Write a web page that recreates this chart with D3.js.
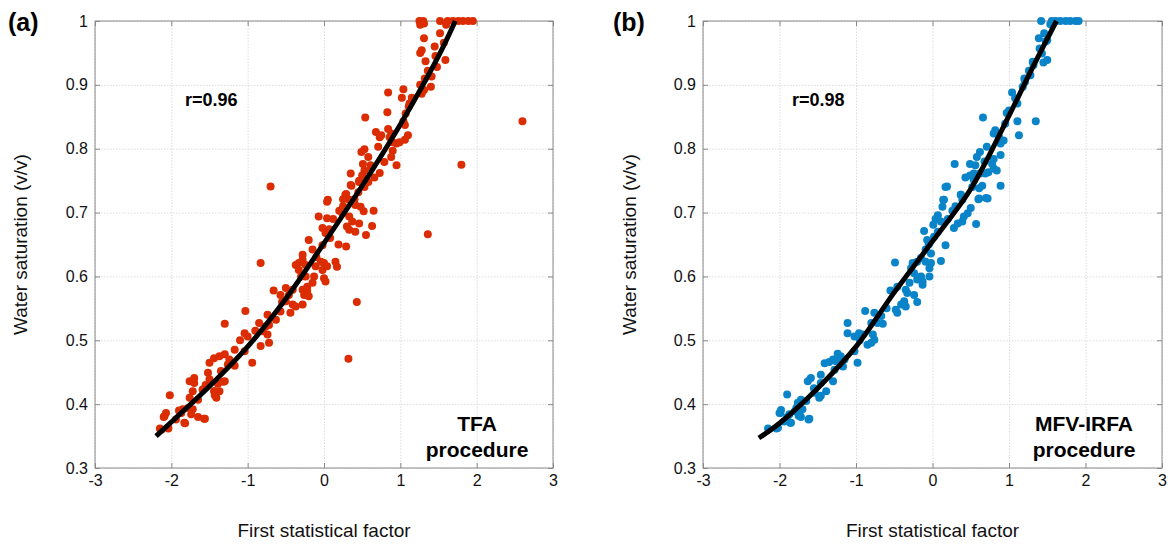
<!DOCTYPE html>
<html><head><meta charset="utf-8">
<script src="https://cdn.jsdelivr.net/npm/d3@7"></script>
<style>
body{margin:0;background:#fff;}
svg{display:block;font-family:"Liberation Sans",Arial,sans-serif;}
</style></head><body>
<svg id="c" width="1173" height="546"></svg>
<script>
const xTicks = [-3,-2,-1,0,1,2,3];
const yTicks = [0.3,0.4,0.5,0.6,0.7,0.8,0.9,1];
const xDomain = [-3,3];
const yDomain = [0.3,1];

const tfaPoints = [
[-0.70,0.741],[0.35,0.743],[0.46,0.748],[0.54,0.746],[0.28,0.728],[0.33,0.72],[0.04,0.717],[0.41,0.712],[0.48,0.709],[0.65,0.703],[0.52,0.702],[0.20,0.703],[0.24,0.699],[-0.07,0.694],[0.04,0.691],[0.33,0.694],[0.37,0.686],[0.46,0.683],[0.63,0.679],[-0.02,0.676],[0.07,0.674],[0.30,0.678],[0.33,0.673],[0.41,0.670],[0.55,0.665],[0.02,0.668],[-0.20,0.657],[-0.02,0.649],[0.19,0.650],[0.29,0.647],[-0.15,0.642],[-0.28,0.634],[-0.28,0.626],[-0.33,0.621],[-0.37,0.618],[-0.24,0.618],[-0.83,0.621],[-0.04,0.623],[0.0,0.621],[-0.11,0.616],[-0.02,0.610],[0.04,0.616],[0.15,0.623],[0.17,0.615],[-0.33,0.610],[-0.24,0.600],[-0.13,0.600],[0.0,0.597],[0.02,0.592],[-0.15,0.590],[-0.22,0.584],[-0.50,0.582],[-0.41,0.579],[-0.46,0.571],[-0.28,0.579],[-0.26,0.571],[-0.20,0.569],[-0.22,0.577],[-0.66,0.578],[-0.57,0.571],[-0.50,0.561],[-0.41,0.556],[-0.37,0.553],[-0.28,0.556],[-0.44,0.543],[-0.57,0.545],[-0.74,0.540],[-1.03,0.546],[-0.63,0.532],[-0.72,0.524],[-0.76,0.522],[-0.85,0.527],[-0.80,0.514],[-1.30,0.526],[-1.04,0.511],[-1.00,0.506],[-0.74,0.509],[-0.72,0.496],[-0.83,0.491],[-1.04,0.483],[-0.94,0.465],[-1.17,0.485],[-1.30,0.478],[-1.37,0.475],[-1.44,0.472],[-1.50,0.465],[-1.24,0.470],[-1.26,0.462],[-1.17,0.460],[-1.35,0.452],[-1.52,0.449],[-1.50,0.439],[-1.30,0.436],[-1.39,0.432],[-1.76,0.436],[-1.70,0.441],[-1.70,0.433],[-1.59,0.423],[-1.44,0.420],[-1.37,0.420],[-1.41,0.410],[-1.72,0.420],[-1.76,0.410],[-1.65,0.407],[-2.02,0.414],[-1.78,0.394],[-1.72,0.392],[-1.85,0.392],[-1.74,0.384],[-1.65,0.380],[-1.57,0.377],[-2.07,0.386],[-2.09,0.381],[-1.94,0.376],[-1.83,0.371],[-2.04,0.363],[-2.13,0.360],[-1.87,0.386],
[0.32,0.471],[0.43,0.560],[1.36,0.666],
[-2.15,0.362],[-2.04,0.362],[-2.10,0.380],[-1.82,0.370],[-1.56,0.377],[-1.32,0.435],[-1.43,0.420],[-1.43,0.414],
[1.25,1.0],[1.30,1.0],[1.26,0.994],[1.31,0.996],[1.52,1.0],[1.62,1.0],[1.60,0.994],[1.69,1.0],[1.76,1.0],[1.82,1.0],[1.89,1.0],[1.95,1.0],[1.52,0.981],[1.31,0.973],[1.57,0.966],[1.28,0.954],[1.26,0.950],[1.46,0.945],[1.33,0.937],[1.59,0.939],[1.48,0.928],[1.36,0.922],[1.41,0.913],[1.32,0.910],[1.26,0.900],[1.40,0.897],[1.31,0.892],[1.28,0.886],[1.04,0.893],[0.84,0.888],[1.02,0.880],[1.12,0.871],[1.11,0.866],[0.83,0.857],[0.54,0.849],[1.07,0.855],[1.04,0.843],[1.06,0.837],[0.84,0.831],[0.68,0.826],[0.73,0.818],[0.75,0.821],[0.88,0.824],[0.86,0.818],[1.10,0.821],[1.06,0.814],[0.95,0.808],[0.99,0.810],[0.71,0.803],[0.90,0.797],[0.49,0.795],[0.53,0.799],[0.58,0.787],[0.51,0.776],[0.61,0.774],[0.95,0.774],[0.88,0.787],[0.79,0.779],[1.80,0.775],[2.60,0.843],[0.73,0.762],[0.35,0.761],[0.53,0.766],[0.50,0.758],[0.46,0.750],[0.66,0.755],[0.36,0.742],[0.58,0.748],[0.53,0.740],[0.45,0.732],[0.29,0.729],[0.05,0.720],[0.25,0.721],[0.40,0.721],
[-0.10,0.630],[0.08,0.660],[0.12,0.690],[-0.30,0.600],[-0.55,0.560],[-0.90,0.515],[-1.10,0.500],[-1.55,0.430],[-1.90,0.390],[0.25,0.710],[0.62,0.770],[0.90,0.810],[1.15,0.880],[1.45,0.960]
];

const mfvPoints = [
[0.19,0.741],[0.54,0.751],[0.61,0.738],[0.72,0.722],[0.61,0.722],[0.37,0.728],[0.39,0.720],[0.15,0.720],[0.13,0.709],[0.26,0.703],[0.50,0.707],[0.46,0.699],[0.41,0.694],[0.07,0.696],[0.04,0.690],[0.11,0.686],[0.01,0.681],[0.39,0.686],[0.33,0.683],[0.28,0.676],[0.57,0.682],[-0.11,0.671],[0.07,0.670],[0.02,0.662],[-0.07,0.657],[0.17,0.649],[-0.09,0.642],[-0.02,0.636],[-0.49,0.622],[-0.26,0.621],[-0.20,0.623],[-0.15,0.629],[-0.09,0.623],[-0.02,0.621],[0.11,0.624],[-0.04,0.613],[-0.28,0.613],[-0.24,0.605],[-0.15,0.600],[-0.04,0.600],[-0.13,0.592],[-0.20,0.595],[-0.13,0.587],[-0.46,0.584],[-0.55,0.578],[-0.35,0.579],[-0.33,0.574],[-0.24,0.571],[-0.20,0.560],[-0.37,0.561],[-0.41,0.556],[-0.35,0.553],[-0.48,0.548],[-0.88,0.546],[-0.76,0.543],[-0.46,0.543],[-0.67,0.538],[-1.11,0.527],[-0.80,0.527],[-0.72,0.527],[-0.65,0.526],[-1.11,0.511],[-1.02,0.506],[-0.96,0.511],[-0.91,0.509],[-0.78,0.509],[-0.76,0.501],[-0.85,0.493],[-0.80,0.496],[-1.02,0.483],[-1.24,0.479],[-1.22,0.472],[-1.30,0.470],[-1.35,0.466],[-1.41,0.464],[-1.26,0.467],[-1.15,0.470],[-0.98,0.465],[-1.17,0.459],[-1.28,0.454],[-1.46,0.446],[-1.59,0.441],[-1.63,0.436],[-1.30,0.436],[-1.46,0.433],[-1.39,0.420],[-1.46,0.413],[-1.48,0.410],[-1.54,0.418],[-1.90,0.415],[-1.72,0.407],[-1.76,0.402],[-1.65,0.405],[-1.78,0.394],[-1.70,0.392],[-1.74,0.386],[-1.72,0.380],[-1.61,0.377],[-2.00,0.386],[-1.98,0.391],[-1.87,0.384],[-1.85,0.371],[-2.02,0.363],[-1.94,0.373],[-1.80,0.389],
[-2.15,0.362],[-2.04,0.362],[-1.99,0.386],[-1.86,0.371],[-1.62,0.376],[-1.75,0.382],
[1.42,1.0],[1.56,1.0],[1.61,1.0],[1.67,1.0],[1.74,1.0],[1.80,1.0],[1.87,1.0],[1.91,1.0],[1.54,0.995],[1.46,0.981],[1.39,0.973],[1.48,0.968],[1.40,0.957],[1.43,0.949],[1.50,0.939],[1.45,0.935],[1.31,0.936],[1.32,0.931],[1.26,0.922],[1.28,0.915],[1.21,0.905],[1.18,0.897],[1.04,0.888],[1.08,0.879],[1.11,0.871],[0.97,0.856],[1.11,0.843],[1.35,0.843],[0.66,0.849],[0.95,0.839],[0.82,0.829],[0.80,0.824],[1.13,0.821],[0.87,0.818],[0.93,0.813],[0.89,0.808],[0.71,0.803],[0.62,0.795],[0.58,0.787],[0.89,0.790],[0.80,0.784],[0.29,0.776],[0.49,0.776],[0.56,0.774],[0.78,0.776],[0.80,0.769],[0.84,0.766],[0.73,0.763],[0.69,0.761],[0.62,0.761],[0.43,0.755],[0.49,0.758],[0.54,0.761],[0.89,0.742],[0.65,0.742],[0.52,0.740],[0.17,0.740],[0.60,0.721],[0.70,0.723],[0.37,0.728],[0.14,0.720],
[-0.05,0.650],[0.20,0.690],[-0.30,0.590],[-0.60,0.550],[-0.95,0.500],[-1.20,0.475],[-1.55,0.425],[-1.90,0.380],[0.30,0.710],[0.68,0.780],[1.00,0.860],[1.20,0.910],[1.50,0.970]
];

const tfaFit = [[-2.2,0.35],[-2.0,0.372],[-1.5,0.428],[-1.0,0.49],[-0.5,0.565],[0,0.652],[0.5,0.742],[1.0,0.838],[1.5,0.945],[1.72,1.0]];
const mfvFit = [[-2.27,0.347],[-2.0,0.37],[-1.5,0.425],[-1.0,0.49],[-0.5,0.575],[0,0.655],[0.5,0.737],[1.0,0.852],[1.3,0.925],[1.62,1.0]];

const panels = [
  {left:95, right:553, top:21, bottom:468, letter:"(a)", letterX:8, rText:"r=0.96", rX:185,
   method:["TFA","procedure"], methodX:477, color:"#db2c02", pts:tfaPoints, fit:tfaFit, ylabX:27},
  {left:703, right:1162, top:21, bottom:468, letter:"(b)", letterX:613, rText:"r=0.98", rX:792,
   method:["MFV-IRFA","procedure"], methodX:1084, color:"#0a84c8", pts:mfvPoints, fit:mfvFit, ylabX:636}
];

const svg = d3.select("#c");
const frameCol = "#8a8a8a";

panels.forEach(p => {
  const x = d3.scaleLinear().domain(xDomain).range([p.left, p.right]);
  const y = d3.scaleLinear().domain(yDomain).range([p.bottom, p.top]);
  const g = svg.append("g");

  g.append("g").attr("transform",`translate(0,${p.bottom})`)
    .call(d3.axisBottom(x).tickValues(xTicks).tickSize(-(p.bottom-p.top)).tickFormat(""))
    .call(s=>{s.select(".domain").remove(); s.selectAll("line").attr("stroke","#dcdcdc").attr("stroke-dasharray","1.5,1.5");});
  g.append("g").attr("transform",`translate(${p.left},0)`)
    .call(d3.axisLeft(y).tickValues(yTicks).tickSize(-(p.right-p.left)).tickFormat(""))
    .call(s=>{s.select(".domain").remove(); s.selectAll("line").attr("stroke","#dcdcdc").attr("stroke-dasharray","1.5,1.5");});

  g.append("rect").attr("x",p.left).attr("y",p.top).attr("width",p.right-p.left).attr("height",p.bottom-p.top)
    .attr("fill","none").attr("stroke",frameCol).attr("stroke-width",1);

  const styleAxis = s => {
    s.select(".domain").remove();
    s.selectAll("line").attr("stroke",frameCol);
    s.selectAll("text").attr("fill","#111").attr("font-size","16px");
  };
  g.append("g").attr("transform",`translate(0,${p.bottom})`)
    .call(d3.axisBottom(x).tickValues(xTicks).tickSizeInner(-5).tickSizeOuter(0).tickPadding(7).tickFormat(d=>String(d)))
    .call(styleAxis);
  g.append("g").attr("transform",`translate(0,${p.top})`)
    .call(d3.axisTop(x).tickValues(xTicks).tickSizeInner(-5).tickSizeOuter(0).tickFormat(""))
    .call(styleAxis);
  g.append("g").attr("transform",`translate(${p.left},0)`)
    .call(d3.axisLeft(y).tickValues(yTicks).tickSizeInner(-5).tickSizeOuter(0).tickPadding(7).tickFormat(d=>String(d)))
    .call(styleAxis);
  g.append("g").attr("transform",`translate(${p.right},0)`)
    .call(d3.axisRight(y).tickValues(yTicks).tickSizeInner(-5).tickSizeOuter(0).tickFormat(""))
    .call(styleAxis);

  g.append("g").selectAll("circle").data(p.pts).join("circle")
    .attr("cx",d=>x(d[0])).attr("cy",d=>y(d[1])).attr("r",4).attr("fill",p.color);

  g.append("path").datum(p.fit)
    .attr("d", d3.line().x(d=>x(d[0])).y(d=>y(d[1])).curve(d3.curveCatmullRom))
    .attr("fill","none").attr("stroke","#000").attr("stroke-width",5);

  g.append("text").attr("x",p.letterX).attr("y",31).attr("font-size","25px").attr("font-weight","bold").text(p.letter);
  g.append("text").attr("x",p.rX).attr("y",106).attr("font-size","18px").attr("font-weight","bold").text(p.rText);
  g.append("text").attr("x",p.methodX).attr("y",431).attr("text-anchor","middle").attr("font-size","21px").attr("font-weight","bold").text(p.method[0]);
  g.append("text").attr("x",p.methodX).attr("y",457).attr("text-anchor","middle").attr("font-size","21px").attr("font-weight","bold").text(p.method[1]);
  g.append("text").attr("x",(p.left+p.right)/2).attr("y",537).attr("text-anchor","middle").attr("font-size","19px").attr("fill","#111").text("First statistical factor");
  g.append("text").attr("transform",`translate(${p.ylabX},${(p.top+p.bottom)/2}) rotate(-90)`).attr("text-anchor","middle").attr("font-size","19px").attr("fill","#111").text("Water saturation (v/v)");
});
</script>
</body></html>
